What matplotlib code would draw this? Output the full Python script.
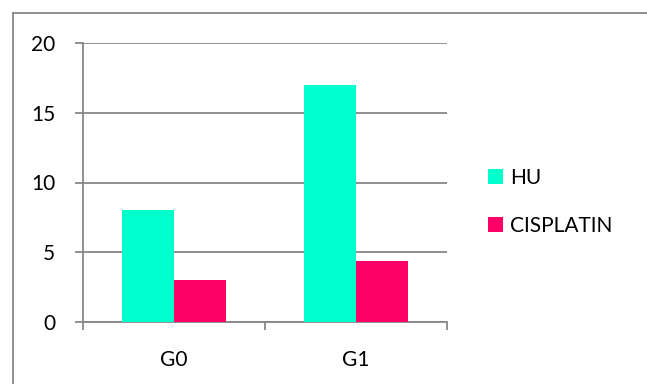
import matplotlib.pyplot as plt
import numpy as np
from matplotlib.lines import Line2D

groups = ['G0', 'G1']
hu = [8, 17]
cisplatin = [3, 4.4]
yticks = [0, 5, 10, 15, 20]

plt.rcParams['font.family'] = ['Lato', 'DejaVu Sans']

fig = plt.figure(figsize=(6.47, 3.84), dpi=100)
ax = fig.add_axes([83 / 647, 62 / 384, 364 / 647, 279 / 384])

x = np.arange(len(groups))
width = 0.286
b1 = ax.bar(x - width / 2, hu, width, color='#00ffcc', label='HU', zorder=3)
b2 = ax.bar(x + width / 2, cisplatin, width, color='#ff0066', label='CISPLATIN', zorder=3)

grey = '#878787'
ax.set_xlim(-0.5, 1.5)
ax.set_ylim(0, 20)
ax.set_yticks(yticks)
ax.yaxis.grid(True, color=grey, linewidth=1.3, zorder=0)
ax.set_xticks([-0.5, 0.5, 1.5])
ax.set_xticklabels([])
ax.set_xticks(x, minor=True)
ax.set_xticklabels(groups, minor=True, fontsize=15)
ax.tick_params(axis='x', which='major', direction='out', length=6, width=1.3, color=grey)
ax.tick_params(axis='x', which='minor', length=0, pad=20)
ax.tick_params(axis='y', direction='out', length=6, width=1.3, color=grey, pad=14, labelsize=15)
for s in ['top', 'right']:
    ax.spines[s].set_visible(False)
for s in ['left', 'bottom']:
    ax.spines[s].set_color(grey)
    ax.spines[s].set_linewidth(1.3)

# outer chart frame
fig.add_artist(Line2D([13 / 647, 13 / 647], [0, 1 - 13 / 384], transform=fig.transFigure, color=grey, lw=1.3))
fig.add_artist(Line2D([13 / 647, 1], [1 - 13 / 384, 1 - 13 / 384], transform=fig.transFigure, color=grey, lw=1.3))

fig.legend(handles=[b1, b2], loc='center left', bbox_to_anchor=(488 / 647, 1 - 202 / 384),
           frameon=False, fontsize=15, handlelength=0.7, handleheight=0.7,
           handletextpad=0.35, labelspacing=1.35, borderpad=0, borderaxespad=0)

fig.savefig('out.png', dpi=100)
